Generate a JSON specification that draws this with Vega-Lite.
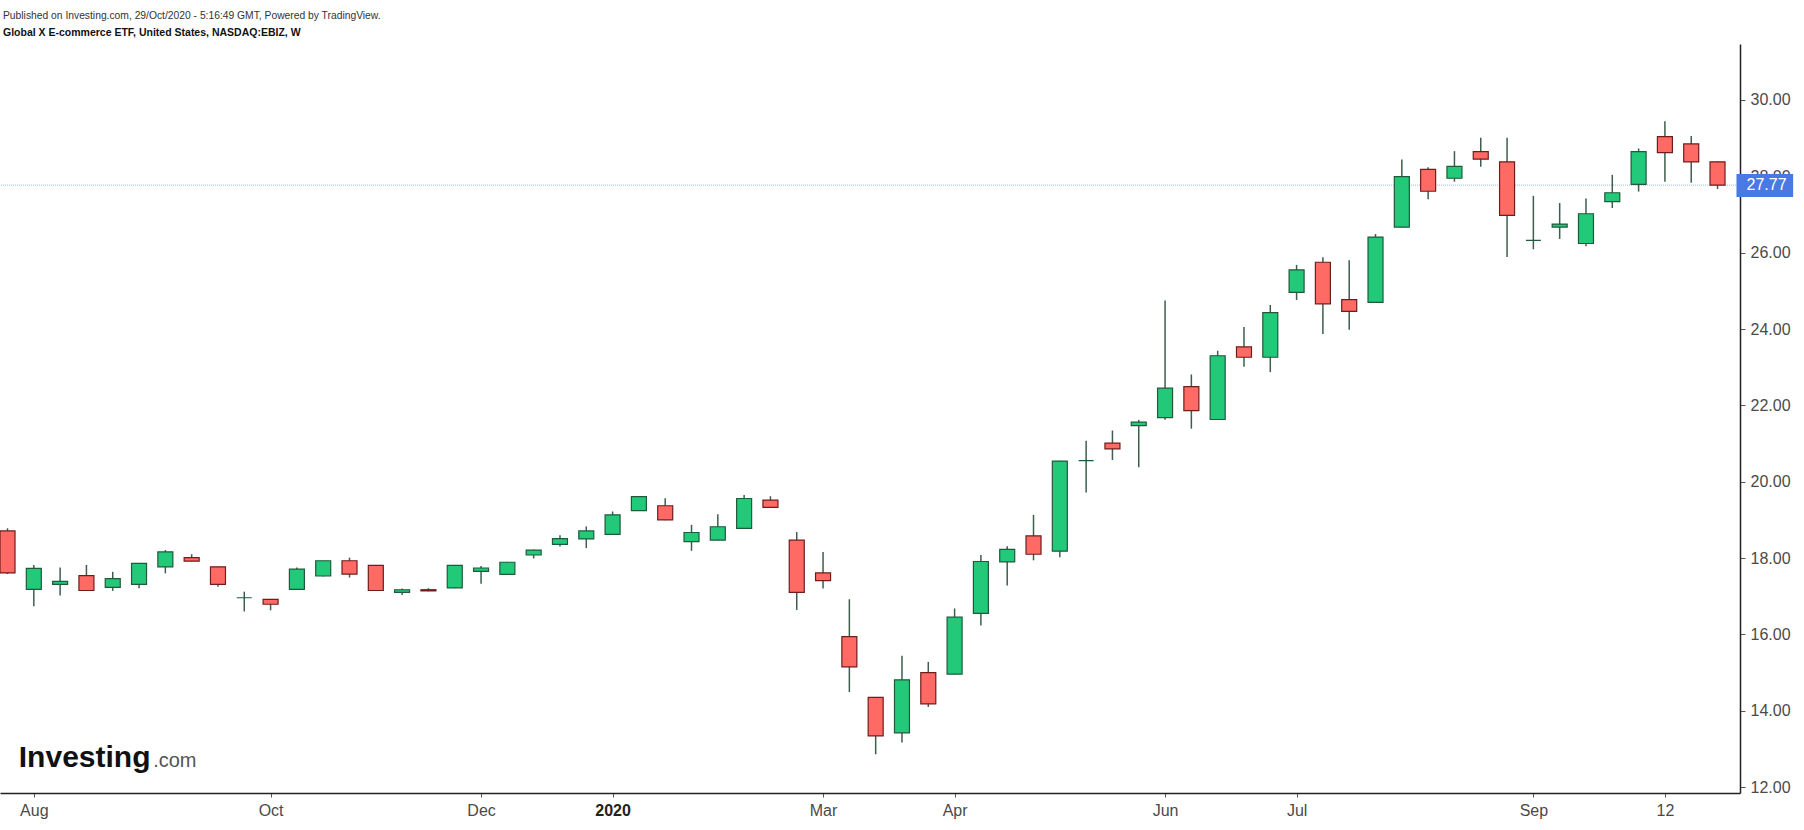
{
  "$schema": "https://vega.github.io/schema/vega-lite/v6.json",
  "width": 1740,
  "height": 749,
  "autosize": {"type": "none"},
  "padding": {"left": 0, "top": 44, "right": 64, "bottom": 37},
  "background": "white",
  "config": {"view": {"stroke": null}, "font": "Liberation Sans"},
  "title": {
    "text": "Published on Investing.com, 29/Oct/2020 - 5:16:49 GMT, Powered by TradingView.",
    "subtitle": "Global X E-commerce ETF, United States, NASDAQ:EBIZ, W",
    "anchor": "start",
    "frame": "group",
    "dx": 3,
    "offset": 6,
    "font": "Liberation Sans",
    "fontSize": 10.3,
    "fontWeight": "normal",
    "color": "#333333",
    "subtitleFont": "Liberation Sans",
    "subtitleFontSize": 10.5,
    "subtitleFontWeight": "bold",
    "subtitleColor": "#111111",
    "subtitlePadding": 6
  },
  "datasets": {
    "one": [{}],
    "ebiz": [
    {"date": "2019-07-29", "open": 18.71, "high": 18.78, "low": 17.58, "close": 17.61},
    {"date": "2019-08-05", "open": 17.18, "high": 17.82, "low": 16.74, "close": 17.73},
    {"date": "2019-08-12", "open": 17.31, "high": 17.75, "low": 17.02, "close": 17.39},
    {"date": "2019-08-19", "open": 17.54, "high": 17.82, "low": 17.14, "close": 17.15},
    {"date": "2019-08-26", "open": 17.23, "high": 17.64, "low": 17.14, "close": 17.46},
    {"date": "2019-09-02", "open": 17.31, "high": 17.87, "low": 17.21, "close": 17.86},
    {"date": "2019-09-09", "open": 17.77, "high": 18.21, "low": 17.60, "close": 18.16},
    {"date": "2019-09-16", "open": 18.01, "high": 18.10, "low": 17.91, "close": 17.92},
    {"date": "2019-09-23", "open": 17.77, "high": 17.78, "low": 17.25, "close": 17.31},
    {"date": "2019-09-30", "open": 16.96, "high": 17.12, "low": 16.60, "close": 16.96},
    {"date": "2019-10-07", "open": 16.92, "high": 16.93, "low": 16.63, "close": 16.79},
    {"date": "2019-10-14", "open": 17.18, "high": 17.75, "low": 17.17, "close": 17.71},
    {"date": "2019-10-21", "open": 17.53, "high": 17.93, "low": 17.52, "close": 17.93},
    {"date": "2019-10-28", "open": 17.93, "high": 18.01, "low": 17.49, "close": 17.58},
    {"date": "2019-11-04", "open": 17.81, "high": 17.82, "low": 17.14, "close": 17.15},
    {"date": "2019-11-11", "open": 17.10, "high": 17.20, "low": 17.03, "close": 17.17},
    {"date": "2019-11-18", "open": 17.17, "high": 17.21, "low": 17.13, "close": 17.14},
    {"date": "2019-11-25", "open": 17.22, "high": 17.82, "low": 17.21, "close": 17.81},
    {"date": "2019-12-02", "open": 17.65, "high": 17.79, "low": 17.33, "close": 17.74},
    {"date": "2019-12-09", "open": 17.57, "high": 17.90, "low": 17.56, "close": 17.89},
    {"date": "2019-12-16", "open": 18.08, "high": 18.22, "low": 17.99, "close": 18.21},
    {"date": "2019-12-23", "open": 18.36, "high": 18.60, "low": 18.30, "close": 18.51},
    {"date": "2019-12-30", "open": 18.50, "high": 18.83, "low": 18.26, "close": 18.71},
    {"date": "2020-01-06", "open": 18.62, "high": 19.22, "low": 18.61, "close": 19.13},
    {"date": "2020-01-13", "open": 19.24, "high": 19.62, "low": 19.23, "close": 19.61},
    {"date": "2020-01-20", "open": 19.37, "high": 19.57, "low": 18.99, "close": 19.00},
    {"date": "2020-01-27", "open": 18.43, "high": 18.87, "low": 18.19, "close": 18.67},
    {"date": "2020-02-03", "open": 18.47, "high": 19.15, "low": 18.46, "close": 18.82},
    {"date": "2020-02-10", "open": 18.78, "high": 19.65, "low": 18.77, "close": 19.56},
    {"date": "2020-02-17", "open": 19.52, "high": 19.62, "low": 19.32, "close": 19.33},
    {"date": "2020-02-24", "open": 18.47, "high": 18.68, "low": 16.64, "close": 17.10},
    {"date": "2020-03-02", "open": 17.61, "high": 18.16, "low": 17.20, "close": 17.41},
    {"date": "2020-03-09", "open": 15.94, "high": 16.92, "low": 14.49, "close": 15.15},
    {"date": "2020-03-16", "open": 14.35, "high": 14.36, "low": 12.86, "close": 13.34},
    {"date": "2020-03-23", "open": 13.42, "high": 15.44, "low": 13.17, "close": 14.81},
    {"date": "2020-03-30", "open": 15.00, "high": 15.28, "low": 14.10, "close": 14.18},
    {"date": "2020-04-06", "open": 14.96, "high": 16.68, "low": 14.95, "close": 16.45},
    {"date": "2020-04-13", "open": 16.55, "high": 18.08, "low": 16.23, "close": 17.91},
    {"date": "2020-04-20", "open": 17.90, "high": 18.31, "low": 17.28, "close": 18.23},
    {"date": "2020-04-27", "open": 18.58, "high": 19.13, "low": 17.94, "close": 18.10},
    {"date": "2020-05-04", "open": 18.18, "high": 20.55, "low": 18.02, "close": 20.54},
    {"date": "2020-05-11", "open": 20.55, "high": 21.07, "low": 19.72, "close": 20.55},
    {"date": "2020-05-18", "open": 21.01, "high": 21.34, "low": 20.57, "close": 20.86},
    {"date": "2020-05-25", "open": 21.47, "high": 21.62, "low": 20.38, "close": 21.56},
    {"date": "2020-06-01", "open": 21.68, "high": 24.75, "low": 21.62, "close": 22.45},
    {"date": "2020-06-08", "open": 22.49, "high": 22.81, "low": 21.39, "close": 21.86},
    {"date": "2020-06-15", "open": 21.63, "high": 23.43, "low": 21.62, "close": 23.30},
    {"date": "2020-06-22", "open": 23.53, "high": 24.05, "low": 23.01, "close": 23.26},
    {"date": "2020-06-29", "open": 23.26, "high": 24.63, "low": 22.87, "close": 24.43},
    {"date": "2020-07-06", "open": 24.96, "high": 25.68, "low": 24.76, "close": 25.55},
    {"date": "2020-07-13", "open": 25.75, "high": 25.88, "low": 23.87, "close": 24.66},
    {"date": "2020-07-20", "open": 24.77, "high": 25.80, "low": 23.98, "close": 24.46},
    {"date": "2020-07-27", "open": 24.70, "high": 26.49, "low": 24.69, "close": 26.41},
    {"date": "2020-08-03", "open": 26.67, "high": 28.44, "low": 26.66, "close": 27.99},
    {"date": "2020-08-10", "open": 28.18, "high": 28.24, "low": 27.40, "close": 27.61},
    {"date": "2020-08-17", "open": 27.95, "high": 28.66, "low": 27.86, "close": 28.26},
    {"date": "2020-08-24", "open": 28.65, "high": 29.01, "low": 28.25, "close": 28.45},
    {"date": "2020-08-31", "open": 28.38, "high": 29.01, "low": 25.89, "close": 26.98},
    {"date": "2020-09-07", "open": 26.32, "high": 27.49, "low": 26.09, "close": 26.32},
    {"date": "2020-09-14", "open": 26.67, "high": 27.30, "low": 26.36, "close": 26.75},
    {"date": "2020-09-21", "open": 26.24, "high": 27.42, "low": 26.17, "close": 27.02},
    {"date": "2020-09-28", "open": 27.34, "high": 28.04, "low": 27.17, "close": 27.57},
    {"date": "2020-10-05", "open": 27.79, "high": 28.73, "low": 27.60, "close": 28.65},
    {"date": "2020-10-12", "open": 29.04, "high": 29.44, "low": 27.86, "close": 28.62},
    {"date": "2020-10-19", "open": 28.85, "high": 29.06, "low": 27.83, "close": 28.38},
    {"date": "2020-10-26", "open": 28.38, "high": 28.39, "low": 27.67, "close": 27.77}
    ]
  },
  "layer": [
    {
      "data": {"name": "one"},
      "mark": {"type": "rule", "color": "#9bb4ef", "strokeWidth": 1, "strokeDash": [1, 1]},
      "encoding": {"y": {"datum": 27.77, "type": "quantitative"}}
    },
    {
      "data": {"name": "ebiz"},
      "mark": {"type": "rule", "clip": true, "color": "#3e5e4d", "strokeWidth": 1.5},
      "encoding": {
        "x": {
          "field": "date", "type": "temporal",
          "scale": {"type": "utc", "domain": [
            {"year": 2019, "month": "jul", "date": 28, "hours": 8, "utc": true},
            {"year": 2020, "month": "oct", "date": 30, "hours": 15, "minutes": 36, "utc": true}
          ]},
          "axis": {
            "title": null,
            "orient": "bottom",
            "grid": false,
            "values": [
              {"year": 2019, "month": "aug", "date": 5, "utc": true},
              {"year": 2019, "month": "oct", "date": 7, "utc": true},
              {"year": 2019, "month": "dec", "date": 2, "utc": true},
              {"year": 2020, "month": "jan", "date": 6, "utc": true},
              {"year": 2020, "month": "mar", "date": 2, "utc": true},
              {"year": 2020, "month": "apr", "date": 6, "utc": true},
              {"year": 2020, "month": "jun", "date": 1, "utc": true},
              {"year": 2020, "month": "jul", "date": 6, "utc": true},
              {"year": 2020, "month": "sep", "date": 7, "utc": true},
              {"year": 2020, "month": "oct", "date": 12, "utc": true}
            ],
            "labelExpr": "utcyear(datum.value) == 2020 && utcmonth(datum.value) == 0 ? '2020' : (utcmonth(datum.value) == 9 && utcdate(datum.value) == 12 ? '12' : utcFormat(datum.value, '%b'))",
            "labelFontWeight": {"condition": {"test": "utcyear(datum.value) == 2020 && utcmonth(datum.value) == 0", "value": "bold"}, "value": "normal"},
            "labelColor": {"condition": {"test": "utcyear(datum.value) == 2020 && utcmonth(datum.value) == 0", "value": "#222222"}, "value": "#4a4a4a"},
            "labelFont": "Liberation Sans",
            "labelFontSize": 16,
            "labelFlush": false,
            "labelOverlap": false,
            "labelPadding": 5,
            "tickSize": 4,
            "tickColor": "#555555",
            "domainColor": "#222222",
            "domainWidth": 1.5
          }
        },
        "y": {
          "field": "low", "type": "quantitative",
          "scale": {"domain": [11.845, 31.467], "nice": false, "zero": false},
          "axis": {
            "title": null,
            "orient": "right",
            "grid": false,
            "values": [12, 14, 16, 18, 20, 22, 24, 26, 28, 30],
            "format": ".2f",
            "labelFont": "Liberation Sans",
            "labelFontSize": 16,
            "labelColor": "#4a4a4a",
            "labelOverlap": false,
            "labelFlush": false,
            "labelPadding": 5,
            "tickSize": 5,
            "tickColor": "#555555",
            "domainColor": "#222222",
            "domainWidth": 1.5
          }
        },
        "y2": {"field": "high"}
      }
    },
    {
      "data": {"name": "ebiz"},
      "mark": {"type": "bar", "width": 15, "clip": true, "strokeWidth": 1.2},
      "encoding": {
        "x": {"field": "date", "type": "temporal"},
        "y": {"field": "open", "type": "quantitative"},
        "y2": {"field": "close"},
        "fill": {"condition": {"test": "datum.close < datum.open", "value": "#ff6b64"}, "value": "#21c979"},
        "stroke": {"condition": {"test": "datum.close < datum.open", "value": "#6e1d1d"}, "value": "#1f5a3c"}
      }
    },
    {
      "data": {"name": "one"},
      "mark": {"type": "rect", "color": "#4a79e3", "clip": false},
      "encoding": {
        "x": {"datum": {"year": 2020, "month": "oct", "date": 31, "hours": 1, "utc": true}, "type": "temporal"},
        "x2": {"datum": {"year": 2020, "month": "nov", "date": 15, "hours": 3, "utc": true}},
        "y": {"datum": 28.06, "type": "quantitative"},
        "y2": {"datum": 27.46}
      }
    },
    {
      "data": {"name": "one"},
      "mark": {"type": "text", "color": "white", "font": "Liberation Sans", "fontSize": 16, "align": "left", "baseline": "middle", "clip": false},
      "encoding": {
        "x": {"datum": {"year": 2020, "month": "nov", "date": 2, "hours": 17, "utc": true}, "type": "temporal"},
        "y": {"datum": 27.77, "type": "quantitative"},
        "text": {"value": "27.77"}
      }
    },
    {
      "data": {"name": "one"},
      "mark": {"type": "text", "color": "#111111", "font": "Liberation Sans", "fontSize": 30, "fontWeight": "bold", "align": "left", "baseline": "alphabetic"},
      "encoding": {
        "x": {"datum": {"year": 2019, "month": "aug", "date": 1, "hours": 0, "utc": true}, "type": "temporal"},
        "y": {"datum": 12.53, "type": "quantitative"},
        "text": {"value": "Investing"}
      }
    },
    {
      "data": {"name": "one"},
      "mark": {"type": "text", "color": "#555555", "font": "Liberation Sans", "fontSize": 20, "align": "left", "baseline": "alphabetic"},
      "encoding": {
        "x": {"datum": {"year": 2019, "month": "sep", "date": 5, "hours": 18, "utc": true}, "type": "temporal"},
        "y": {"datum": 12.53, "type": "quantitative"},
        "text": {"value": ".com"}
      }
    }
  ]
}
